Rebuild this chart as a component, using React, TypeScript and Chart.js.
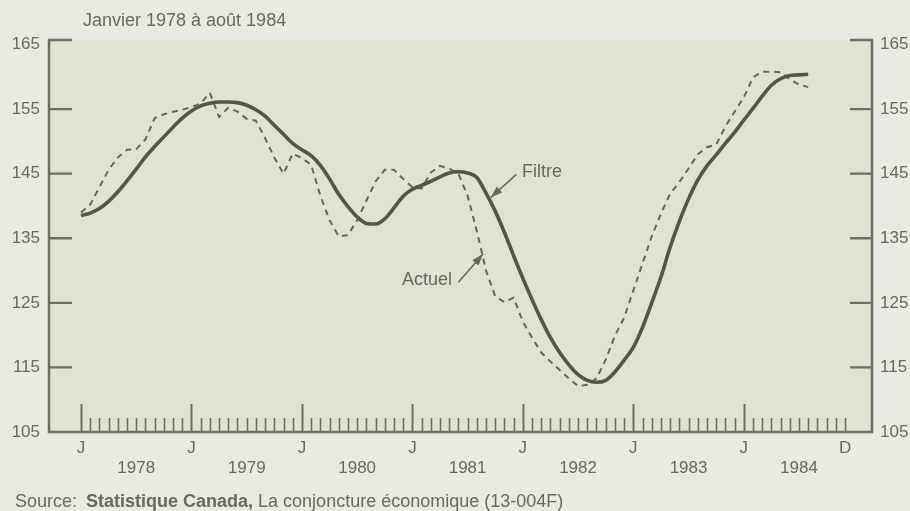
import React, { useEffect, useRef } from 'react';
import { Chart, registerables } from 'chart.js';

Chart.register(...registerables);

// ---- Data (monthly, January 1978 to August 1984) ----
const FILTRE = [
  138.5, 138.9, 139.6, 140.7, 142.2, 143.9, 145.7, 147.6, 149.2, 150.7, 152.2, 153.6,
  154.7, 155.5, 155.9, 156.1, 156.1, 156.0, 155.6, 154.9, 153.9, 152.5, 151.1, 149.7,
  148.7, 147.8, 146.3, 144.2, 141.8, 139.9, 138.3, 137.3, 137.2, 138.0, 139.7, 141.5,
  142.6, 143.2, 143.8, 144.5, 145.1, 145.3, 145.1, 144.4, 142.0, 139.2, 135.9, 132.3,
  128.8, 125.5, 122.4, 119.6, 117.3, 115.4, 113.9, 113.0, 112.7, 113.0, 114.3, 116.1,
  118.1, 121.2, 125.0, 129.0, 133.6, 137.6, 141.1, 144.0, 146.2, 147.9, 149.7, 151.4,
  153.3, 155.1, 157.0, 158.7, 159.7, 160.2, 160.3, 160.4,
];

const ACTUEL = [
  139.0, 140.2, 142.9, 145.6, 147.5, 148.7, 148.8, 150.3, 153.6, 154.2, 154.6, 154.9,
  155.3, 155.9, 157.5, 153.8, 155.2, 154.6, 153.5, 153.2, 150.5, 147.5, 145.0, 148.1,
  147.4, 146.4, 141.6, 137.8, 135.3, 135.5, 137.8, 140.8, 143.8, 145.6, 145.6, 144.2,
  142.9, 142.7, 145.2, 146.2, 145.8, 145.0, 141.6, 136.1, 130.0, 126.0, 125.1, 125.8,
  122.1, 119.6, 117.3, 115.9, 114.6, 113.3, 112.1, 112.3, 113.3, 116.2, 119.9, 122.7,
  126.9, 131.1, 135.3, 138.8, 141.9, 143.7, 145.8, 148.0, 149.1, 149.5, 152.3, 154.6,
  156.8, 159.9, 160.8, 160.8, 160.7, 159.6, 158.8, 158.4,
];

const YEARS = ['1978', '1979', '1980', '1981', '1982', '1983', '1984'];
const Y_TICKS = [105, 115, 125, 135, 145, 155, 165];
const Y_FRAME_TOP = 165.7;
const JAN_LABEL = 'J';
const DEC_LABEL = 'D';
const LAST_MONTH_TICK = 83; // December 1984

const TITLE = 'Janvier 1978 à août 1984';
const SOURCE_PREFIX = 'Source: ';
const SOURCE_BOLD = 'Statistique Canada,';
const SOURCE_REST = ' La conjoncture économique (13-004F)';

// annotations in data coordinates [month index, value]
const NOTE_FILTRE = { text: 'Filtre', at: [47.9, 145.3], tail: [47.3, 144.9], tip: [44.5, 141.3] };
const NOTE_ACTUEL = { text: 'Actuel', at: [40.3, 128.5], tail: [41.0, 128.2], tip: [43.7, 132.6] };

// ---- Styles ----
const FONT = '"Liberation Sans", Arial, Helvetica, sans-serif';
const C_OUTER = '#e8ebe2';
const C_PLOT = '#dce5d3';
const C_AXIS = '#6a7063';
const C_TEXT = '#676a61';
const C_FILTRE = '#51574a';
const C_ACTUEL = '#62685b';
const X_MIN = -3.476;
const X_MAX = 85.93;

function drawArrow(ctx: CanvasRenderingContext2D, x1: number, y1: number, x2: number, y2: number) {
  ctx.beginPath();
  ctx.moveTo(x1, y1);
  ctx.lineTo(x2, y2);
  ctx.stroke();
  const ang = Math.atan2(y2 - y1, x2 - x1);
  const L = 12;
  const W = 4;
  const bx = x2 - L * Math.cos(ang);
  const by = y2 - L * Math.sin(ang);
  ctx.beginPath();
  ctx.moveTo(x2, y2);
  ctx.lineTo(bx + W * Math.sin(ang), by - W * Math.cos(ang));
  ctx.lineTo(bx - W * Math.sin(ang), by + W * Math.cos(ang));
  ctx.closePath();
  ctx.fill();
}

const decorPlugin = {
  id: 'decor',
  beforeDraw(chart: any) {
    const { ctx, chartArea: a, width, height } = chart;
    ctx.save();
    ctx.fillStyle = C_OUTER;
    ctx.fillRect(0, 0, width, height);
    ctx.fillStyle = C_PLOT;
    ctx.fillRect(a.left, a.top, a.right - a.left, a.bottom - a.top);
    ctx.restore();
  },
  afterDatasetsDraw(chart: any) {
    const { ctx, chartArea: a, scales } = chart;
    const xs = scales.x;
    const ys = scales.y;
    ctx.save();
    ctx.strokeStyle = C_AXIS;
    ctx.lineCap = 'butt';
    // month ticks
    for (let m = 0; m <= LAST_MONTH_TICK; m++) {
      const px = Math.round(xs.getPixelForValue(m)) + 0.5;
      const major = m % 12 === 0;
      ctx.lineWidth = major ? 2 : 1.6;
      ctx.beginPath();
      ctx.moveTo(px, a.bottom);
      ctx.lineTo(px, a.bottom - (major ? 28 : 14));
      ctx.stroke();
    }
    // value ticks (top one closes the frame)
    ctx.lineWidth = 2.3;
    Y_TICKS.forEach((v, i) => {
      if (i === 0) return;
      const py = i === Y_TICKS.length - 1 ? a.top : ys.getPixelForValue(v);
      ctx.beginPath();
      ctx.moveTo(a.left - 1, py);
      ctx.lineTo(a.left + 23, py);
      ctx.moveTo(a.right + 1, py);
      ctx.lineTo(a.right - 22, py);
      ctx.stroke();
    });
    // axis lines
    ctx.lineWidth = 2.5;
    ctx.beginPath();
    ctx.moveTo(a.left, a.top);
    ctx.lineTo(a.left, a.bottom);
    ctx.lineTo(a.right, a.bottom);
    ctx.lineTo(a.right, a.top);
    ctx.stroke();
    ctx.restore();
  },
  afterDraw(chart: any) {
    const { ctx, scales } = chart;
    const xs = scales.x;
    const ys = scales.y;
    ctx.save();
    ctx.fillStyle = C_TEXT;
    ctx.textBaseline = 'middle';
    ctx.textAlign = 'left';
    ctx.font = `18px ${FONT}`;
    ctx.fillText(TITLE, xs.getPixelForValue(0) + 2, 21);

    // source line
    let sx = 15;
    const sy = 502;
    ctx.font = `18px ${FONT}`;
    ctx.fillText(SOURCE_PREFIX, sx, sy);
    sx += ctx.measureText(SOURCE_PREFIX).width + 4;
    ctx.font = `bold 18px ${FONT}`;
    ctx.fillText(SOURCE_BOLD, sx, sy);
    sx += ctx.measureText(SOURCE_BOLD).width;
    ctx.font = `18px ${FONT}`;
    ctx.fillText(SOURCE_REST, sx, sy);

    // annotations
    const P = (p: number[]) => [xs.getPixelForValue(p[0]), ys.getPixelForValue(p[1])];
    ctx.strokeStyle = C_TEXT;
    ctx.fillStyle = C_TEXT;
    ctx.lineWidth = 1.6;
    ctx.font = `18px ${FONT}`;
    const [fx, fy] = P(NOTE_FILTRE.at);
    ctx.textAlign = 'left';
    ctx.fillText(NOTE_FILTRE.text, fx, fy);
    const [ft1, ft2] = P(NOTE_FILTRE.tail);
    const [fp1, fp2] = P(NOTE_FILTRE.tip);
    drawArrow(ctx, ft1, ft2, fp1, fp2);

    const [ax, ay] = P(NOTE_ACTUEL.at);
    ctx.textAlign = 'right';
    ctx.fillText(NOTE_ACTUEL.text, ax, ay);
    const [at1, at2] = P(NOTE_ACTUEL.tail);
    const [ap1, ap2] = P(NOTE_ACTUEL.tip);
    drawArrow(ctx, at1, at2, ap1, ap2);
    ctx.restore();
  },
};

function xTickLabel(v: number): string | string[] {
  if (v === LAST_MONTH_TICK) return DEC_LABEL;
  if (v % 12 === 0) return JAN_LABEL;
  if (v % 12 === 6) return ['', YEARS[(v - 6) / 12]];
  return '';
}

export default function App() {
  const ref = useRef<HTMLCanvasElement>(null);

  useEffect(() => {
    if (!ref.current) return;
    Chart.defaults.font.family = FONT;
    const xTickValues: number[] = [];
    YEARS.forEach((_, i) => {
      xTickValues.push(i * 12, i * 12 + 6);
    });
    xTickValues.push(LAST_MONTH_TICK);

    const yAxisCommon = {
      min: Y_TICKS[0],
      max: Y_FRAME_TOP,
      afterBuildTicks: (s: any) => {
        s.ticks = Y_TICKS.map((v) => ({ value: v }));
      },
      grid: { display: false, drawTicks: false },
      border: { display: false },
    };

    const chart = new Chart(ref.current, {
      type: 'line',
      data: {
        datasets: [
          {
            label: 'Filtre',
            data: FILTRE.map((v, i) => ({ x: i, y: v })),
            borderColor: C_FILTRE,
            borderWidth: 3.6,
            pointRadius: 0,
            cubicInterpolationMode: 'monotone',
            fill: false,
          },
          {
            label: 'Actuel',
            data: ACTUEL.map((v, i) => ({ x: i, y: v })),
            borderColor: C_ACTUEL,
            borderWidth: 2,
            borderDash: [6, 5],
            pointRadius: 0,
            tension: 0,
            fill: false,
          },
        ],
      },
      options: {
        animation: false,
        responsive: false,
        layout: { padding: { top: 40, left: 0, right: 0, bottom: 0 } },
        plugins: {
          legend: { display: false },
          tooltip: { enabled: false },
          title: { display: false },
        },
        scales: {
          x: {
            type: 'linear',
            min: X_MIN,
            max: X_MAX,
            afterBuildTicks: (s: any) => {
              s.ticks = xTickValues.map((v) => ({ value: v }));
            },
            afterFit: (s: any) => {
              s.height = 79;
            },
            ticks: {
              autoSkip: false,
              maxRotation: 0,
              minRotation: 0,
              padding: 6,
              color: C_TEXT,
              font: { size: 17, family: FONT, lineHeight: 1.2 },
              callback: (v: any) => xTickLabel(Number(v)),
            },
            grid: { display: false, drawTicks: false },
            border: { display: false },
          },
          y: {
            ...yAxisCommon,
            type: 'linear',
            position: 'left',
            afterFit: (s: any) => {
              s.width = 49;
            },
            ticks: { padding: 9, color: C_TEXT, font: { size: 17, family: FONT } },
          },
          y2: {
            ...yAxisCommon,
            type: 'linear',
            position: 'right',
            afterFit: (s: any) => {
              s.width = 38;
            },
            ticks: { padding: 8, color: C_TEXT, font: { size: 17, family: FONT } },
          },
        },
      } as any,
      plugins: [decorPlugin],
    } as any);

    return () => chart.destroy();
  }, []);

  return (
    <div style={{ position: 'fixed', left: 0, top: 0, width: 910, height: 511 }}>
      <canvas ref={ref} width={910} height={511} style={{ display: 'block', width: 910, height: 511 }} />
    </div>
  );
}
